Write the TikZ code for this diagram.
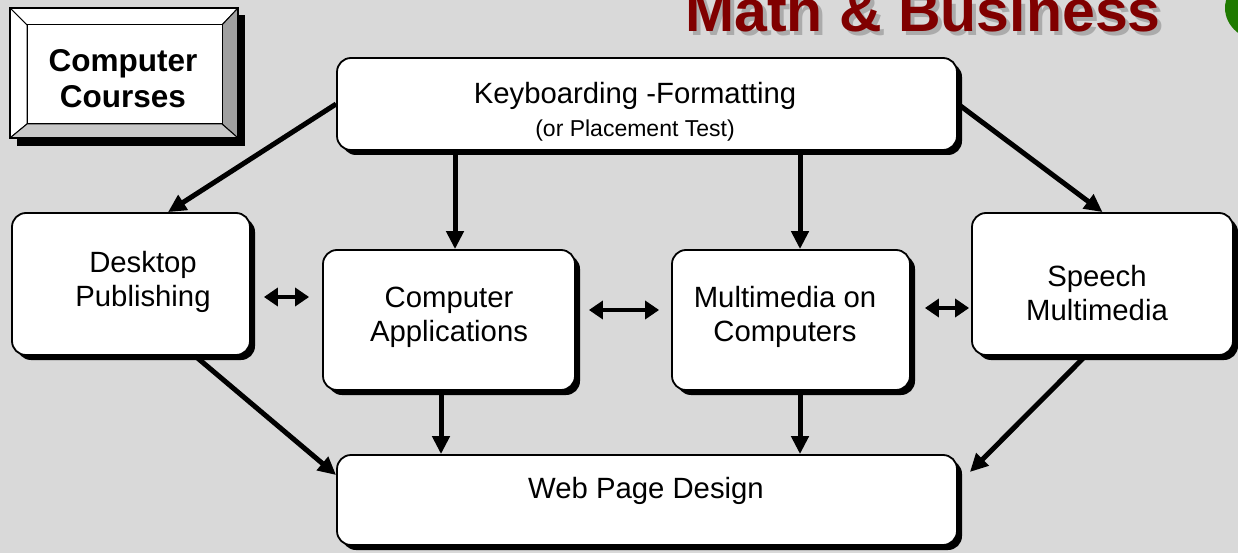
\documentclass[tikz,border=0pt]{standalone}
\usepackage{fontspec}
\setmainfont{Liberation Sans}
\usetikzlibrary{arrows.meta,shadows,calc}
\definecolor{bg}{HTML}{D9D9D9}
\definecolor{titlered}{HTML}{800000}
\definecolor{titleshadow}{HTML}{ABABAB}
\definecolor{logogreen}{HTML}{1F7A00}
\definecolor{bevdark}{HTML}{A0A0A0}
\definecolor{bevlight}{HTML}{C8C8C8}
\begin{document}
\begin{tikzpicture}[x=1pt,y=-1pt,
  course/.style={draw=black, line width=1.8pt, fill=white, rounded corners=14pt,
    inner sep=0pt,
    drop shadow={shadow xshift=5pt, shadow yshift=-5pt, fill=black, opacity=1}},
  txt/.style={align=center, inner sep=0pt, font=\fontsize{29.3}{34}\selectfont},
  smalltxt/.style={align=center, inner sep=0pt, font=\fontsize{23}{26}\selectfont},
  bevel/.style={draw=black, line width=1pt, line join=round},
  arr/.style={line width=5pt, -{Triangle[length=18pt,width=17pt]}},
  dbl/.style={line width=4pt, {Triangle[length=14pt,width=18pt]}-{Triangle[length=14pt,width=18pt]}},
  titlefont/.style={font=\fontsize{59}{60}\selectfont\bfseries, inner sep=0pt, anchor=base}
]
\clip (0,0) rectangle (1238,553);
\fill[bg] (0,0) rectangle (1238,553);

% title and logo
\node[titlefont, text=titleshadow] at (927,36) {Math \& Business};
\node[titlefont, text=titlered] (title) at (923,32) {Math \& Business};
\fill[logogreen] (1263,8) ellipse [x radius=38, y radius=33];

% bevelled label box
\fill[black] (17,15) rectangle (245,146);
\filldraw[bevel, fill=white] (10,8) -- (238,8) -- (222,25) -- (27,25) -- cycle;
\filldraw[bevel, fill=white] (10,8) -- (27,25) -- (27,124) -- (10,138) -- cycle;
\filldraw[bevel, fill=bevdark] (238,8) -- (238,138) -- (222,124) -- (222,25) -- cycle;
\filldraw[bevel, fill=bevlight] (10,138) -- (238,138) -- (222,124) -- (27,124) -- cycle;
\draw[black, line width=1.2pt] (10,8) rectangle (238,138);
\node[draw=black, line width=1pt, fill=white, minimum width=195pt, minimum height=99pt, inner sep=0pt] (face) at (124.5,74.5) {};
\node[align=center, inner sep=0pt, font=\fontsize{31.5}{36}\selectfont\bfseries] (cc) at (123,79) {Computer\\Courses};

% course boxes
\node[course, minimum width=620pt, minimum height=92pt] (kb) at (647,104) {};
\node[txt] (kbt) at (635,96) {Keyboarding -Formatting};
\node[smalltxt] (kbs) at (635,131) {(or Placement Test)};

\node[course, minimum width=238pt, minimum height=142pt] (dp) at (131,284) {};
\node[txt] (dpt) at (143,282) {Desktop\\Publishing};

\node[course, minimum width=252pt, minimum height=140pt] (ca) at (449,320) {};
\node[txt] (cat) at (449,317) {Computer\\Applications};

\node[course, minimum width=238pt, minimum height=140pt] (mm) at (791,320) {};
\node[txt] (mmt) at (785,317) {Multimedia on\\Computers};

\node[course, minimum width=261pt, minimum height=142pt] (sp) at (1102.5,284) {};
\node[txt] (spt) at (1097,293) {Speech\\Multimedia};

\node[course, minimum width=620pt, minimum height=90pt] (wb) at (647,500) {};
\node[txt] (wbt) at (646,491) {Web Page Design};

% arrows from Keyboarding
\draw[arr] (kb.west) -- ([xshift=37pt]dp.north);
\draw[arr] ([xshift=6pt]ca.north |- kb.south) -- ([xshift=6pt]ca.north);
\draw[arr] ([xshift=9pt]mm.north |- kb.south) -- ([xshift=9pt]mm.north);
\draw[arr] (kb.east) -- (sp.north);

% double arrows
\draw[dbl, shorten <=13pt, shorten >=13pt] (dp.east |- 0,297) -- (ca.west |- 0,297);
\draw[dbl, shorten <=13pt, shorten >=12pt] (ca.east |- 0,310) -- (mm.west |- 0,310);
\draw[dbl, shorten <=14pt, shorten >=2pt] (mm.east |- 0,308) -- (sp.west |- 0,308);

% arrows to Web Page Design
\draw[arr] ([xshift=64pt]dp.south) -- ([yshift=25pt]wb.west);
\draw[arr] ([xshift=-8pt]ca.south) -- ([xshift=-8pt]ca.south |- wb.north);
\draw[arr] ([xshift=9pt]mm.south) -- ([xshift=9pt]mm.south |- wb.north);
\draw[arr] ([xshift=-17pt]sp.south) -- ([xshift=12pt,yshift=28pt]wb.east);
\end{tikzpicture}
\end{document}
